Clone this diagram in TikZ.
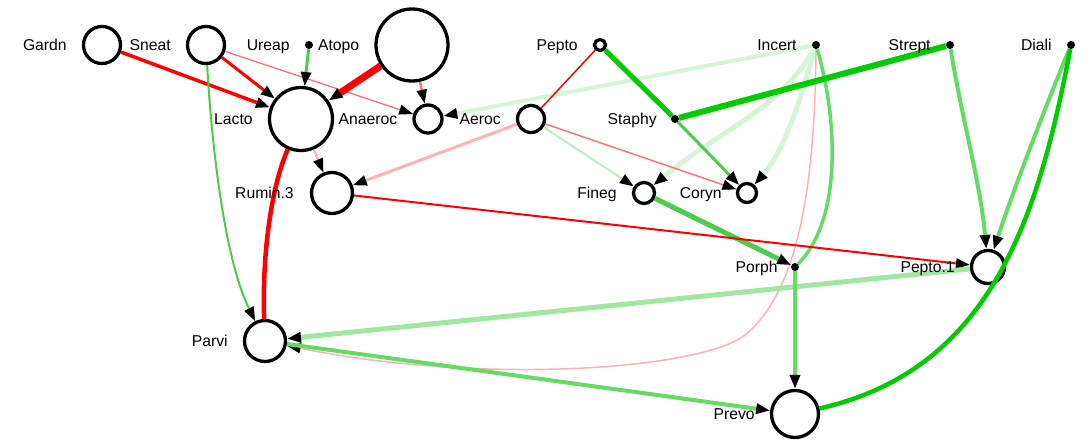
\documentclass[tikz,border=0pt]{standalone}
\usepackage{fontspec}
\setmainfont{Liberation Sans}
\usetikzlibrary{arrows.meta,positioning}
\definecolor{cred}{RGB}{255,0,0}
\definecolor{csalmon}{RGB}{255,115,115}
\definecolor{cpink}{RGB}{255,178,178}
\definecolor{cgreen}{RGB}{0,204,0}
\definecolor{cmgreen}{RGB}{100,220,100}
\definecolor{cdgreen}{RGB}{75,205,75}
\definecolor{clgreen}{RGB}{160,232,160}
\definecolor{cvlgreen}{RGB}{214,244,214}
\definecolor{cfgreen}{RGB}{190,236,190}
\begin{document}
\begin{tikzpicture}[x=1pt,y=-1pt,
  nd/.style={circle,draw=black,line width=3.3pt,inner sep=0pt,minimum size=#1},
  blk/.style={circle,fill=black,inner sep=0pt,minimum size=8pt},
  lab/.style={inner sep=0pt,font=\fontsize{15.7}{18}\selectfont,text height=13.2pt,text depth=2pt,anchor=east},
  ew/.style={line width=#1},
  arr/.style={-{Triangle[length=14pt,width=10pt,color=black]}}]
\useasboundingbox (0,0) rectangle (1088,447);
% nodes
\node[nd=37pt] (gardn) at (102,45) {};
\node[nd=37pt] (sneat) at (206,45) {};
\node[blk] (ureap) at (309,45) {};
\node[nd=72pt] (atopo) at (412,45) {};
\node[nd=63pt] (lacto) at (301,119) {};
\node[nd=28pt] (anaeroc) at (428,119) {};
\node[nd=41pt] (rumin) at (332,193) {};
\node[nd=27pt] (aeroc) at (531,119) {};
\node[nd=11pt] (pepto) at (600,45) {};
\node[blk] (staphy) at (675,119) {};
\node[nd=21pt] (fineg) at (644,193) {};
\node[nd=19pt] (coryn) at (747,193) {};
\node[blk] (incert) at (816,45) {};
\node[blk] (strept) at (950,45) {};
\node[blk] (diali) at (1071,45) {};
\node[nd=33pt] (pepto1) at (988,267) {};
\node[blk] (porph) at (795,267) {};
\node[nd=41pt] (parvi) at (265,341) {};
\node[nd=47pt] (prevo) at (795,414) {};
% edges
\draw[ew=4pt,cvlgreen,arr] (incert) -- (anaeroc);
\draw[ew=5pt,cvlgreen,arr] (incert) .. controls (780,110) and (720,130) .. (fineg);
\draw[ew=5pt,cvlgreen,arr] (incert) .. controls (800,100) and (785,150) .. (coryn);
\draw[ew=1.5pt,cpink,arr] (incert) .. controls (815,180) and (800,290) .. (745,335) .. controls (700,370) and (480,385) .. (parvi);
\draw[ew=3.5pt,cmgreen] (incert) .. controls (838,120) and (842,220) .. (porph);
\draw[ew=3.5pt,cred,arr] (gardn) -- (lacto);
\draw[ew=3pt,cred,arr] (sneat) -- (lacto);
\draw[ew=1.3pt,csalmon,arr] (sneat) -- (anaeroc);
\draw[ew=2pt,cdgreen,arr] (sneat) .. controls (212,150) and (225,260) .. (parvi);
\draw[ew=3pt,cdgreen,arr] (ureap) -- (lacto);
\draw[ew=7pt,cred,arr] (atopo) -- (lacto);
\draw[ew=2.5pt,csalmon,arr] (atopo) -- (anaeroc);
\draw[ew=2.5pt,cpink,arr] (lacto) -- (rumin);
\draw[ew=4.5pt,cred] (lacto) .. controls (270,190) and (262,260) .. (parvi);
\draw[ew=3pt,cpink,arr] (aeroc) -- (rumin);
\draw[ew=2pt,cfgreen,arr] (aeroc) -- (fineg);
\draw[ew=1.5pt,csalmon,arr] (aeroc) -- (coryn);
\draw[ew=1.5pt,cred] (pepto) -- (aeroc);
\draw[ew=5pt,cgreen] (pepto) -- (staphy);
\draw[ew=3pt,cdgreen,arr] (staphy) -- (coryn);
\draw[ew=6pt,cgreen] (strept) -- (staphy);
\draw[ew=5pt,cdgreen,arr] (fineg) -- (porph);
\draw[ew=2pt,cred,arr] (rumin) -- (pepto1);
\draw[ew=4pt,cmgreen,arr] (strept) .. controls (962,120) and (980,180) .. (pepto1);
\draw[ew=4pt,cmgreen,arr] (diali) .. controls (1040,120) and (1010,200) .. (pepto1);
\draw[ew=4.5pt,cgreen] (diali) .. controls (1038,220) and (990,370) .. (prevo);
\draw[ew=5pt,clgreen,arr] (pepto1) -- (parvi);
\draw[ew=3.5pt,cmgreen,arr] (porph) -- (prevo);
\draw[ew=4pt,cmgreen,arr] (parvi) -- (prevo);
% labels
\node[lab,left=15pt of gardn] (lgardn) {Gardn};
\node[lab,left=15pt of sneat] (lsneat) {Sneat};
\node[lab,left=15pt of ureap] (lureap) {Ureap};
\node[lab,left=15pt of atopo] (latopo) {Atopo};
\node[lab,left=15pt of lacto] (llacto) {Lacto};
\node[lab,left=15pt of anaeroc] (lanaeroc) {Anaeroc};
\node[lab,left=16pt of rumin] (lrumin) {Rumin.3};
\node[lab,left=15pt of aeroc] (laeroc) {Aeroc};
\node[lab,left=15pt of pepto] (lpepto) {Pepto};
\node[lab,left=14pt of staphy] (lstaphy) {Staphy};
\node[lab,left=15pt of fineg] (lfineg) {Fineg};
\node[lab,left=14pt of coryn] (lcoryn) {Coryn};
\node[lab,left=15pt of incert] (lincert) {Incert};
\node[lab,left=15pt of strept] (lstrept) {Strept};
\node[lab,left=15pt of diali] (ldiali) {Diali};
\node[lab,left=15pt of pepto1] (lpepto1) {Pepto.1};
\node[lab,left=13pt of porph] (lporph) {Porph};
\node[lab,left=15pt of parvi] (lparvi) {Parvi};
\node[lab,left=15pt of prevo] (lprevo) {Prevo};
\end{tikzpicture}
\end{document}
